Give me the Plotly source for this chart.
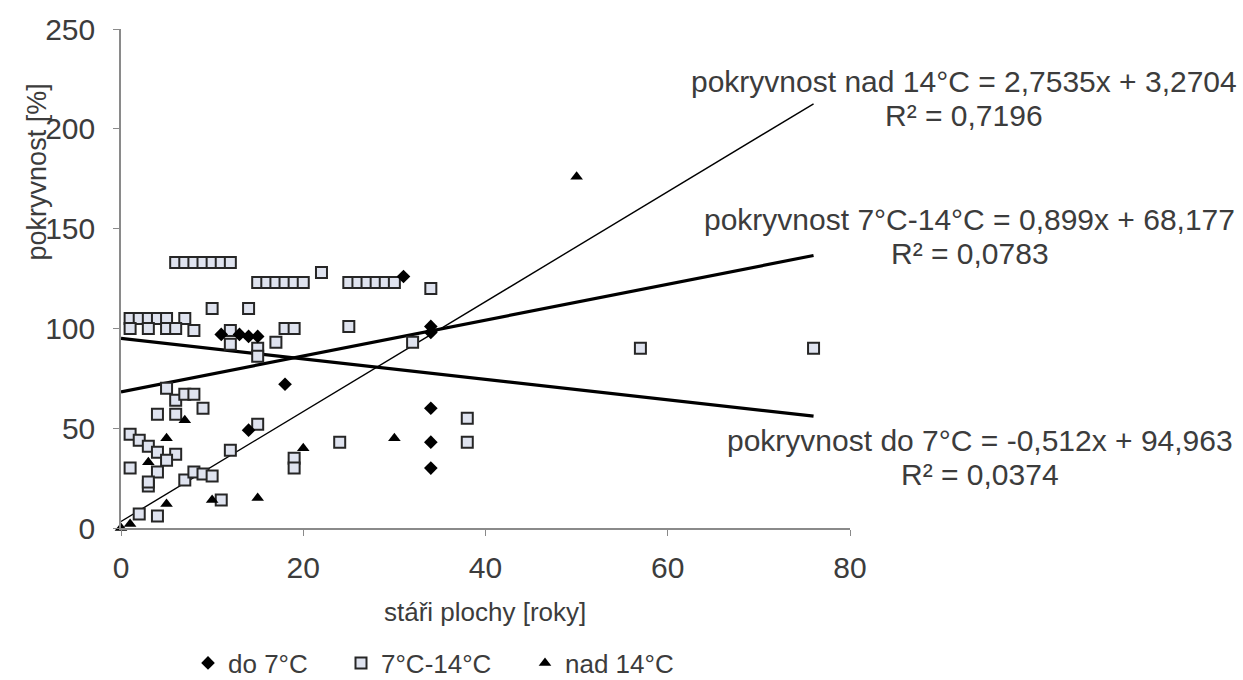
import plotly.graph_objects as go

# ---------------- data ----------------
do7_x = [11, 13, 14, 15, 14, 18, 31, 34, 34, 34, 34, 34]
do7_y = [97, 97, 96, 96, 49, 72, 126, 101, 98, 60, 43, 30]

mid_x = [6, 7, 8, 9, 10, 11, 12,
         15, 16, 17, 18, 19, 20,
         25, 26, 27, 28, 29, 30,
         22, 34, 10, 14,
         1, 2, 3, 4, 5, 7,
         1, 3, 5, 6, 8,
         12, 12, 17, 18, 19, 15, 15, 25, 32,
         57, 76,
         5, 6, 7, 8, 9, 4, 6,
         15, 12,
         1, 2, 3, 4, 6, 5, 1, 4, 3, 3,
         7, 8, 9, 10, 11, 2, 4,
         19, 19, 24, 38, 38]
mid_y = [133, 133, 133, 133, 133, 133, 133,
         123, 123, 123, 123, 123, 123,
         123, 123, 123, 123, 123, 123,
         128, 120, 110, 110,
         105, 105, 105, 105, 105, 105,
         100, 100, 100, 100, 99,
         99, 92, 93, 100, 100, 90, 86, 101, 93,
         90, 90,
         70, 64, 67, 67, 60, 57, 57,
         52, 39,
         47, 44, 41, 38, 37, 34, 30, 28, 21, 23,
         24, 28, 27, 26, 14, 7, 6,
         35, 30, 43, 55, 43]

nad_x = [0, 1, 3, 5, 5, 7, 10, 15, 20, 30, 50]
nad_y = [0, 2, 33, 12, 45, 54, 14, 15, 40, 45, 176]

# trendline coefficients (as printed on the chart)
trend_names = ["pokryvnost nad 14°C", "pokryvnost 7°C-14°C", "pokryvnost do 7°C"]
trend_slope = [2.7535, 0.899, -0.512]
trend_intercept = [3.2704, 68.177, 94.963]
trend_r2 = ["0,7196", "0,0783", "0,0374"]
trend_eq = ["2,7535x + 3,2704", "0,899x + 68,177", "-0,512x + 94,963"]
trend_x = [0, 76]

x_ticks = [0, 20, 40, 60, 80]
y_ticks = [0, 50, 100, 150, 200, 250]

FONT = "Arial, Liberation Sans, sans-serif"
TXT = "#3c3c3c"

fig = go.Figure()

# trendlines
widths = [1.4, 3.2, 3.2]
for s, b, w in zip(trend_slope, trend_intercept, widths):
    fig.add_trace(go.Scatter(
        x=trend_x, y=[s * xx + b for xx in trend_x], mode="lines",
        line=dict(color="black", width=w), showlegend=False, hoverinfo="skip"))

fig.add_trace(go.Scatter(
    x=mid_x, y=mid_y, mode="markers", name="7°C-14°C", legend="legend2",
    marker=dict(symbol="square", size=11, color="#dfe3ef",
                line=dict(color="#262626", width=2)),
    cliponaxis=False))
fig.add_trace(go.Scatter(
    x=do7_x, y=do7_y, mode="markers", name="do 7°C", legend="legend",
    marker=dict(symbol="diamond", size=10.5, color="black",
                line=dict(color="black", width=0)),
    cliponaxis=False))
fig.add_trace(go.Scatter(
    x=nad_x, y=nad_y, mode="markers", name="nad 14°C", legend="legend3",
    marker=dict(symbol="triangle-up", size=11, color="black",
                line=dict(color="black", width=0)),
    cliponaxis=False))

L, R, T, B = 121, 850, 27, 528
W, H = 1243, 680
pw, ph = R - L, B - T

def px(xp):
    return (xp - L) / pw

def py(yp):
    return (B - yp) / ph

annotations = []
# (center x, y of equation line, y of R² line)
eq_pos = [(964, 80, 114), (970, 218, 252), (980, 440, 474)]
for name, eq, r2, (xc, y1, y2) in zip(trend_names, trend_eq, trend_r2, eq_pos):
    annotations.append(dict(
        xref="paper", yref="paper", x=px(xc), y=py(y1),
        xanchor="center", yanchor="middle", showarrow=False,
        text=f"{name} = {eq}",
        font=dict(family=FONT, size=30, color=TXT)))
    annotations.append(dict(
        xref="paper", yref="paper", x=px(xc), y=py(y2),
        xanchor="center", yanchor="middle", showarrow=False,
        text=f"R² = {r2}",
        font=dict(family=FONT, size=30, color=TXT)))

annotations.append(dict(
    xref="paper", yref="paper", x=px(37), y=py(171), textangle=-90,
    xanchor="center", yanchor="middle", showarrow=False,
    text="pokryvnost [%]", font=dict(family=FONT, size=27, color=TXT)))
annotations.append(dict(
    xref="paper", yref="paper", x=px(485), y=py(612),
    xanchor="center", yanchor="middle", showarrow=False,
    text="stáři plochy [roky]", font=dict(family=FONT, size=26, color=TXT)))

leg_common = dict(orientation="h", xref="container", yref="container",
                  yanchor="middle", xanchor="left", y=1 - 663 / H,
                  font=dict(family=FONT, size=26, color=TXT),
                  bgcolor="rgba(0,0,0,0)", itemwidth=30)

fig.update_layout(
    width=W, height=H,
    margin=dict(l=L, r=W - R, t=T, b=H - B),
    paper_bgcolor="white", plot_bgcolor="white",
    font=dict(family=FONT, size=30, color=TXT),
    xaxis=dict(range=[0, 80], tickvals=x_ticks, showgrid=False, zeroline=False,
               showline=True, linecolor="#8a8a8a", linewidth=1.5,
               ticks="outside", ticklen=6, tickcolor="#8a8a8a",
               ticklabelstandoff=6,
               tickfont=dict(family=FONT, size=30, color=TXT)),
    yaxis=dict(range=[0, 250], tickvals=y_ticks, showgrid=False, zeroline=False,
               showline=True, linecolor="#8a8a8a", linewidth=1.5,
               ticks="outside", ticklen=6, tickcolor="#8a8a8a",
               ticklabelstandoff=12,
               tickfont=dict(family=FONT, size=30, color=TXT)),
    legend=dict(leg_common, x=188 / W),
    legend2=dict(leg_common, x=341 / W),
    legend3=dict(leg_common, x=525 / W),
    annotations=annotations,
)

fig.write_html("out.html")
